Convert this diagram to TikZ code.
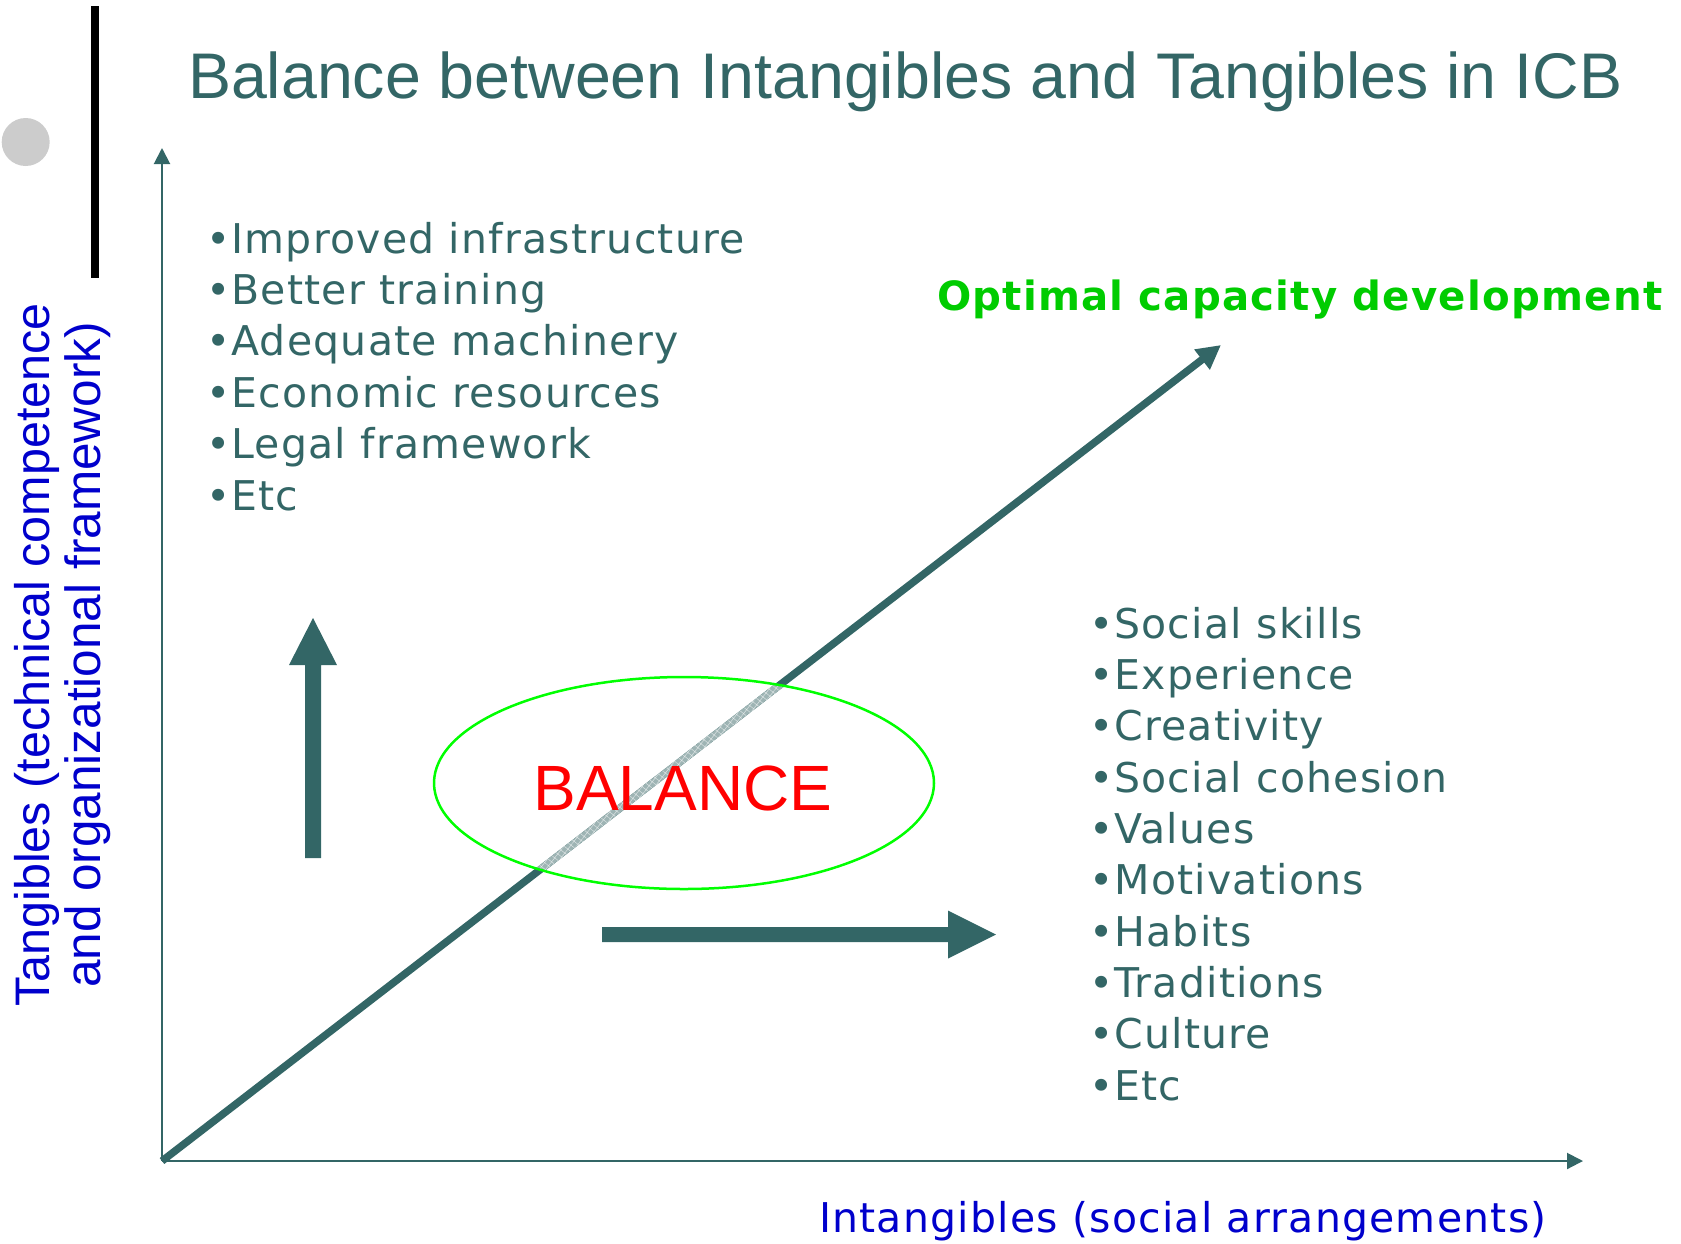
\documentclass[tikz,border=0pt]{standalone}
\usepackage{fontspec}
\setmainfont{Liberation Sans}
\newfontfamily\listfont[LetterSpace=3]{DejaVu Sans}
\usetikzlibrary{arrows.meta,calc,patterns.meta,shapes.geometric}

\definecolor{slate}{RGB}{51,102,102}
\definecolor{slatelight}{RGB}{158,180,180}
\definecolor{axisblue}{RGB}{0,0,204}
\definecolor{okgreen}{RGB}{0,204,0}
\definecolor{ringgreen}{RGB}{0,255,0}
\definecolor{dotgray}{RGB}{204,204,204}

\begin{document}
\begin{tikzpicture}[x=1pt,y=-1pt,
  txt/.style={inner sep=0pt, outer sep=0pt},
  bulletline/.style={txt, anchor=base west, text=slate,
    font=\listfont\fontsize{41}{49}\selectfont},
  axislabel/.style={txt, text=axisblue},
  axisline/.style={slate, line width=2pt, -{Triangle[length=16pt,width=16pt]}},
  blockarrow/.style={fill=slate, draw=none}]
\useasboundingbox (0,0) rectangle (1681,1243);

% slide ornaments
\fill[dotgray] (25.7,142) circle[radius=24];
\fill[black] (91,6) rectangle (99,278);

% heading
\node[txt, anchor=base west, text=slate, font=\fontsize{64.5}{77}\selectfont]
  (title) at (188,98) {Balance between Intangibles and Tangibles in ICB};

% axes
\coordinate (O) at (162,1161);
\coordinate (ytop) at (162,148);
\coordinate (xend) at (1583,1161);
\draw[axisline] (O) -- (ytop);
\draw[axisline] (O) -- (xend);

% diagonal growth line
\coordinate (D) at (1221,345);
\draw[slate, line width=7.5pt, -{Triangle[length=24pt,width=24pt]}] (O) -- (D);

% faded, hatched part of the diagonal inside the ring
\begin{scope}
  \clip (684,783) ellipse [x radius=250, y radius=106];
  \draw[slatelight, line width=7.5pt] (O) -- (D);
  \fill[pattern={Lines[angle=52,distance=5pt,line width=0.6pt]}, pattern color=white, opacity=0.55]
    ($(O)!3.75pt!90:(D)$) -- ($(D)!3.75pt!-90:(O)$) -- ($(D)!3.75pt!90:(O)$) -- ($(O)!3.75pt!-90:(D)$) -- cycle;
  \fill[pattern={Lines[angle=-38,distance=5pt,line width=0.6pt]}, pattern color=white, opacity=0.55]
    ($(O)!3.75pt!90:(D)$) -- ($(D)!3.75pt!-90:(O)$) -- ($(D)!3.75pt!90:(O)$) -- ($(O)!3.75pt!-90:(D)$) -- cycle;
\end{scope}

% balance ring
\node[ellipse, draw=ringgreen, line width=2.5pt, minimum width=500pt, minimum height=212pt,
  inner sep=0pt] (ring) at (684,783) {};
\node[txt, anchor=base, text=red, font=\fontsize{64}{77}\selectfont] (bal) at (683,810) {BALANCE};

% block arrows
\fill[blockarrow] (305,858) -- (305,665) -- (289,665) -- (313,618) -- (337,665)
  -- (321,665) -- (321,858) -- cycle;
\fill[blockarrow] (602,927) -- (948,927) -- (948,910.5) -- (996,934.5) -- (948,958.5)
  -- (948,942) -- (602,942) -- cycle;

% axis captions
\node[axislabel, anchor=base, rotate=90, font=\fontsize{48.5}{58}\selectfont]
  (ylab1) at (49,655) {Tangibles (technical competence};
\node[axislabel, anchor=base, rotate=90, font=\fontsize{49.5}{58}\selectfont]
  (ylab2) at (100,655) {and organizational framework)};
\node[axislabel, anchor=base west, font=\listfont\fontsize{41}{49}\selectfont]
  (xlab) at (819,1232) {Intangibles (social arrangements)};

\node[txt, anchor=base west, text=okgreen, font=\listfont\bfseries\fontsize{40.3}{48}\selectfont]
  (optimal) at (937,310) {Optimal capacity development};

% tangibles list
\foreach \t [count=\i] in {Improved infrastructure, Better training, Adequate machinery,
    Economic resources, Legal framework, Etc}
  \node[bulletline] (tan\i) at (206, {253+51.4*(\i-1)}) {•\t};

% intangibles list
\foreach \t [count=\i] in {Social skills, Experience, Creativity, Social cohesion, Values,
    Motivations, Habits, Traditions, Culture, Etc}
  \node[bulletline] (int\i) at (1089, {638+51.35*(\i-1)}) {•\t};
\end{tikzpicture}
\end{document}
